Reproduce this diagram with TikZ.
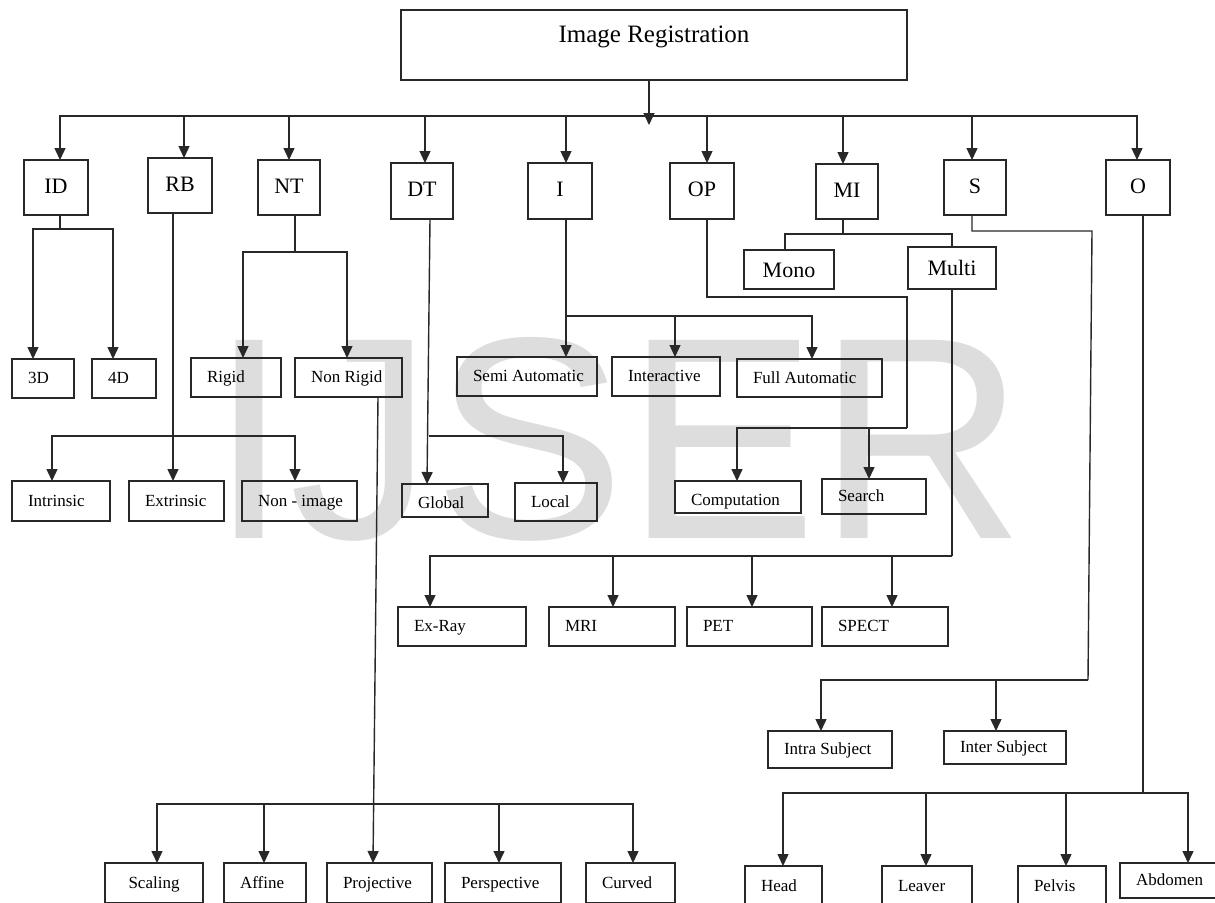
\documentclass[tikz,border=0pt]{standalone}
\usepackage{fontspec}
\setmainfont{Liberation Serif}
\newfontfamily\wmfont{Liberation Sans}
\usetikzlibrary{arrows.meta}
\definecolor{wmgray}{RGB}{221,221,221}
\definecolor{ink}{RGB}{40,40,40}
\newcommand\bxn[7][]{\node[sbox,#1,minimum width=#5pt,minimum height=#6pt] (#2) at (#3,#4) {\makebox[\dimexpr#5pt-32pt\relax][l]{#7}};}
\begin{document}
\begin{tikzpicture}[x=1pt,y=-1pt,
  every node/.style={inner sep=0pt, outer sep=0pt},
  bbox/.style={draw=ink, line width=1.5pt, font=\fontsize{22}{24}\selectfont, text height=15pt, text depth=4pt},
  sbox/.style={draw=ink, line width=1.5pt, font=\fontsize{17}{19}\selectfont, text height=12pt, text depth=2pt, inner xsep=16pt, inner ysep=0pt},
  lowtext/.style={text height=16pt, text depth=0pt},
  conn/.style={draw=ink, line width=1.4pt},
  arr/.style={conn, -{Triangle[length=12pt,width=11pt]}}
]
\useasboundingbox (0,0) rectangle (1215,902);
\fill[white] (0,0) rectangle (1215,902);
% watermark
\node[anchor=base west, text=wmgray, font=\wmfont\fontsize{288}{300}\selectfont] (wm) at (209,538) {IJSER};

% title
\node[draw=ink, line width=1.5pt, minimum width=506pt, minimum height=70pt, font=\fontsize{25}{27}\selectfont, text height=17pt, text depth=23pt] (T) at (654,45) {Image Registration};

% level 1
\node[bbox, minimum width=64pt, minimum height=55pt] (ID) at (56,187.5) {ID};
\node[bbox, minimum width=64pt, minimum height=55pt] (RB) at (180,185.5) {RB};
\node[bbox, minimum width=62pt, minimum height=55pt] (NT) at (289,187.5) {NT};
\node[bbox, minimum width=62pt, minimum height=56pt] (DT) at (422,191) {DT};
\node[bbox, minimum width=64pt, minimum height=56pt] (I) at (560,191) {I};
\node[bbox, minimum width=64pt, minimum height=56pt] (OP) at (702,191) {OP};
\node[bbox, minimum width=62pt, minimum height=55pt] (MI) at (847,191.5) {MI};
\node[bbox, minimum width=62pt, minimum height=55pt] (S) at (975,187.5) {S};
\node[bbox, minimum width=64pt, minimum height=55pt] (O) at (1138,187.5) {O};

% Mono / Multi
\node[bbox, text depth=0pt, minimum width=90pt, minimum height=39pt] (mono) at (789,269.5) {Mono};
\node[bbox, text depth=0pt, minimum width=88pt, minimum height=42pt] (multi) at (952,268) {Multi};

% level 2 and below
\bxn{d3}{43}{378.5}{62}{39}{3D}
\bxn{d4}{124}{378.5}{64}{39}{4D}
\bxn{rigid}{236}{377.5}{90}{39}{Rigid}
\bxn{nrig}{348.5}{377.5}{107}{39}{Non Rigid}
\bxn{intr}{61}{501}{98}{40}{Intrinsic}
\bxn{extr}{176.5}{501}{95}{40}{Extrinsic}
\bxn{nimg}{299.5}{501}{115}{40}{Non - image}
\bxn[lowtext]{glob}{445}{500.5}{86}{33}{Global}
\bxn{local}{556}{502}{82}{38}{Local}
\bxn{semi}{527}{376.5}{140}{39}{Semi Automatic}
\bxn{inter}{666}{376.5}{108}{39}{Interactive}
\bxn{full}{809.5}{378}{145}{38}{Full Automatic}
\bxn[lowtext]{comp}{738}{497}{126}{32}{Computation}
\bxn{search}{874}{496.5}{104}{35}{Search}
\bxn{xray}{462}{626.5}{128}{39}{Ex-Ray}
\bxn{mri}{612}{626.5}{126}{39}{MRI}
\bxn{pet}{749.5}{626.5}{125}{39}{PET}
\bxn{spect}{885}{626.5}{126}{39}{SPECT}
\bxn{intra}{830}{749.5}{124}{37}{Intra Subject}
\bxn{inters}{1005}{747.5}{122}{33}{Inter Subject}
\node[sbox, inner xsep=0pt, minimum width=98pt, minimum height=40pt] (scal) at (154,883) {Scaling};
\bxn{aff}{265}{883}{82}{40}{Affine}
\bxn{proj}{379.5}{883}{105}{40}{Projective}
\bxn{persp}{503}{883}{116}{40}{Perspective}
\bxn{curv}{630.5}{883}{89}{40}{Curved}
\bxn{head}{783.5}{886}{77}{40}{Head}
\bxn{leaver}{927}{886}{90}{40}{Leaver}
\bxn{pelvis}{1062}{886}{88}{40}{Pelvis}
\bxn{abd}{1168.5}{880.5}{97}{35}{Abdomen}

% top bus
\coordinate (ttip) at (649,125);
\coordinate (bus) at (649,116);
\draw[arr] ([xshift=-5pt]T.south) -- (ttip);
\foreach \n/\s in {ID/4,RB/4,NT/0,DT/3,I/6,OP/5,MI/-4,S/-3,O/-1}
  \draw[arr] (bus) -| ([xshift=\s pt]\n.north);

% ID
\coordinate (idj) at (60,229);
\draw[conn] ([xshift=4pt]ID.south) -- (idj);
\draw[arr] (idj) -| ([xshift=-10pt]d3.north);
\draw[arr] (idj) -| ([xshift=-11pt]d4.north);

% RB
\coordinate (rbj) at (173,436);
\draw[arr] ([xshift=-7pt]RB.south) -- ([xshift=-3.5pt]extr.north);
\draw[arr] (rbj) -| ([xshift=-9pt]intr.north);
\draw[arr] (rbj) -| ([xshift=-4.5pt]nimg.north);

% NT
\coordinate (ntj) at (295,252);
\draw[conn] ([xshift=6pt]NT.south) -- (ntj);
\draw[arr] (ntj) -| ([xshift=7pt]rigid.north);
\draw[arr] (ntj) -| ([xshift=-1.5pt]nrig.north);

% DT
\coordinate (dtj) at (428.5,436);
\draw[arr] ([xshift=8pt]DT.south) -- ([xshift=-18pt]glob.north);
\draw[arr] (dtj) -| ([xshift=7pt]local.north);

% I
\coordinate (ij) at (566,316);
\draw[arr] ([xshift=6pt]I.south) -- ([xshift=39pt]semi.north);
\draw[arr] (ij) -| ([xshift=9pt]inter.north);
\draw[arr] (ij) -| ([xshift=2.5pt]full.north);

% OP
\coordinate (opa) at (907,297);
\coordinate (opb) at (907,428);
\draw[conn] ([xshift=5pt]OP.south) |- (opa) -- (opb);
\draw[arr] (opb) -| ([xshift=-1pt]comp.north);
\draw[arr] (opb) -| ([xshift=-5pt]search.north);

% MI
\coordinate (mij) at (843,234);
\draw[conn] ([xshift=-4pt]MI.south) -- (mij);
\draw[conn] (mij) -| ([xshift=-4pt]mono.north);
\draw[conn] (mij) -| (multi.north);

% Multi
\coordinate (mj) at (952,556);
\draw[conn] (multi.south) -- (mj);
\draw[arr] (mj) -| ([xshift=-32pt]xray.north);
\draw[arr] (mj) -| ([xshift=1pt]mri.north);
\draw[arr] (mj) -| ([xshift=2.5pt]pet.north);
\draw[arr] (mj) -| ([xshift=7pt]spect.north);

% S
\coordinate (sa) at (1092,231);
\coordinate (sb) at (1088,680);
\draw[conn] ([xshift=-3pt]S.south) |- (sa) -- (sb);
\draw[arr] (sb) -| ([xshift=-9pt]intra.north);
\draw[arr] (sb) -| ([xshift=-9pt]inters.north);

% O
\coordinate (oj) at (1143,793);
\draw[conn] ([xshift=5pt]O.south) -- (oj);
\draw[arr] (oj) -| ([xshift=-0.5pt]head.north);
\draw[arr] (oj) -| ([xshift=-1pt]leaver.north);
\draw[arr] (oj) -| ([xshift=4pt]pelvis.north);
\draw[arr] (oj) -| ([xshift=19.5pt]abd.north);

% Non Rigid
\coordinate (nrj) at (374,804);
\draw[arr] ([xshift=29.5pt]nrig.south) -- ([xshift=-6.5pt]proj.north);
\draw[arr] (nrj) -| ([xshift=3pt]scal.north);
\draw[arr] (nrj) -| ([xshift=-1pt]aff.north);
\draw[arr] (nrj) -| ([xshift=-4pt]persp.north);
\draw[arr] (nrj) -| ([xshift=2.5pt]curv.north);
\end{tikzpicture}
\end{document}
